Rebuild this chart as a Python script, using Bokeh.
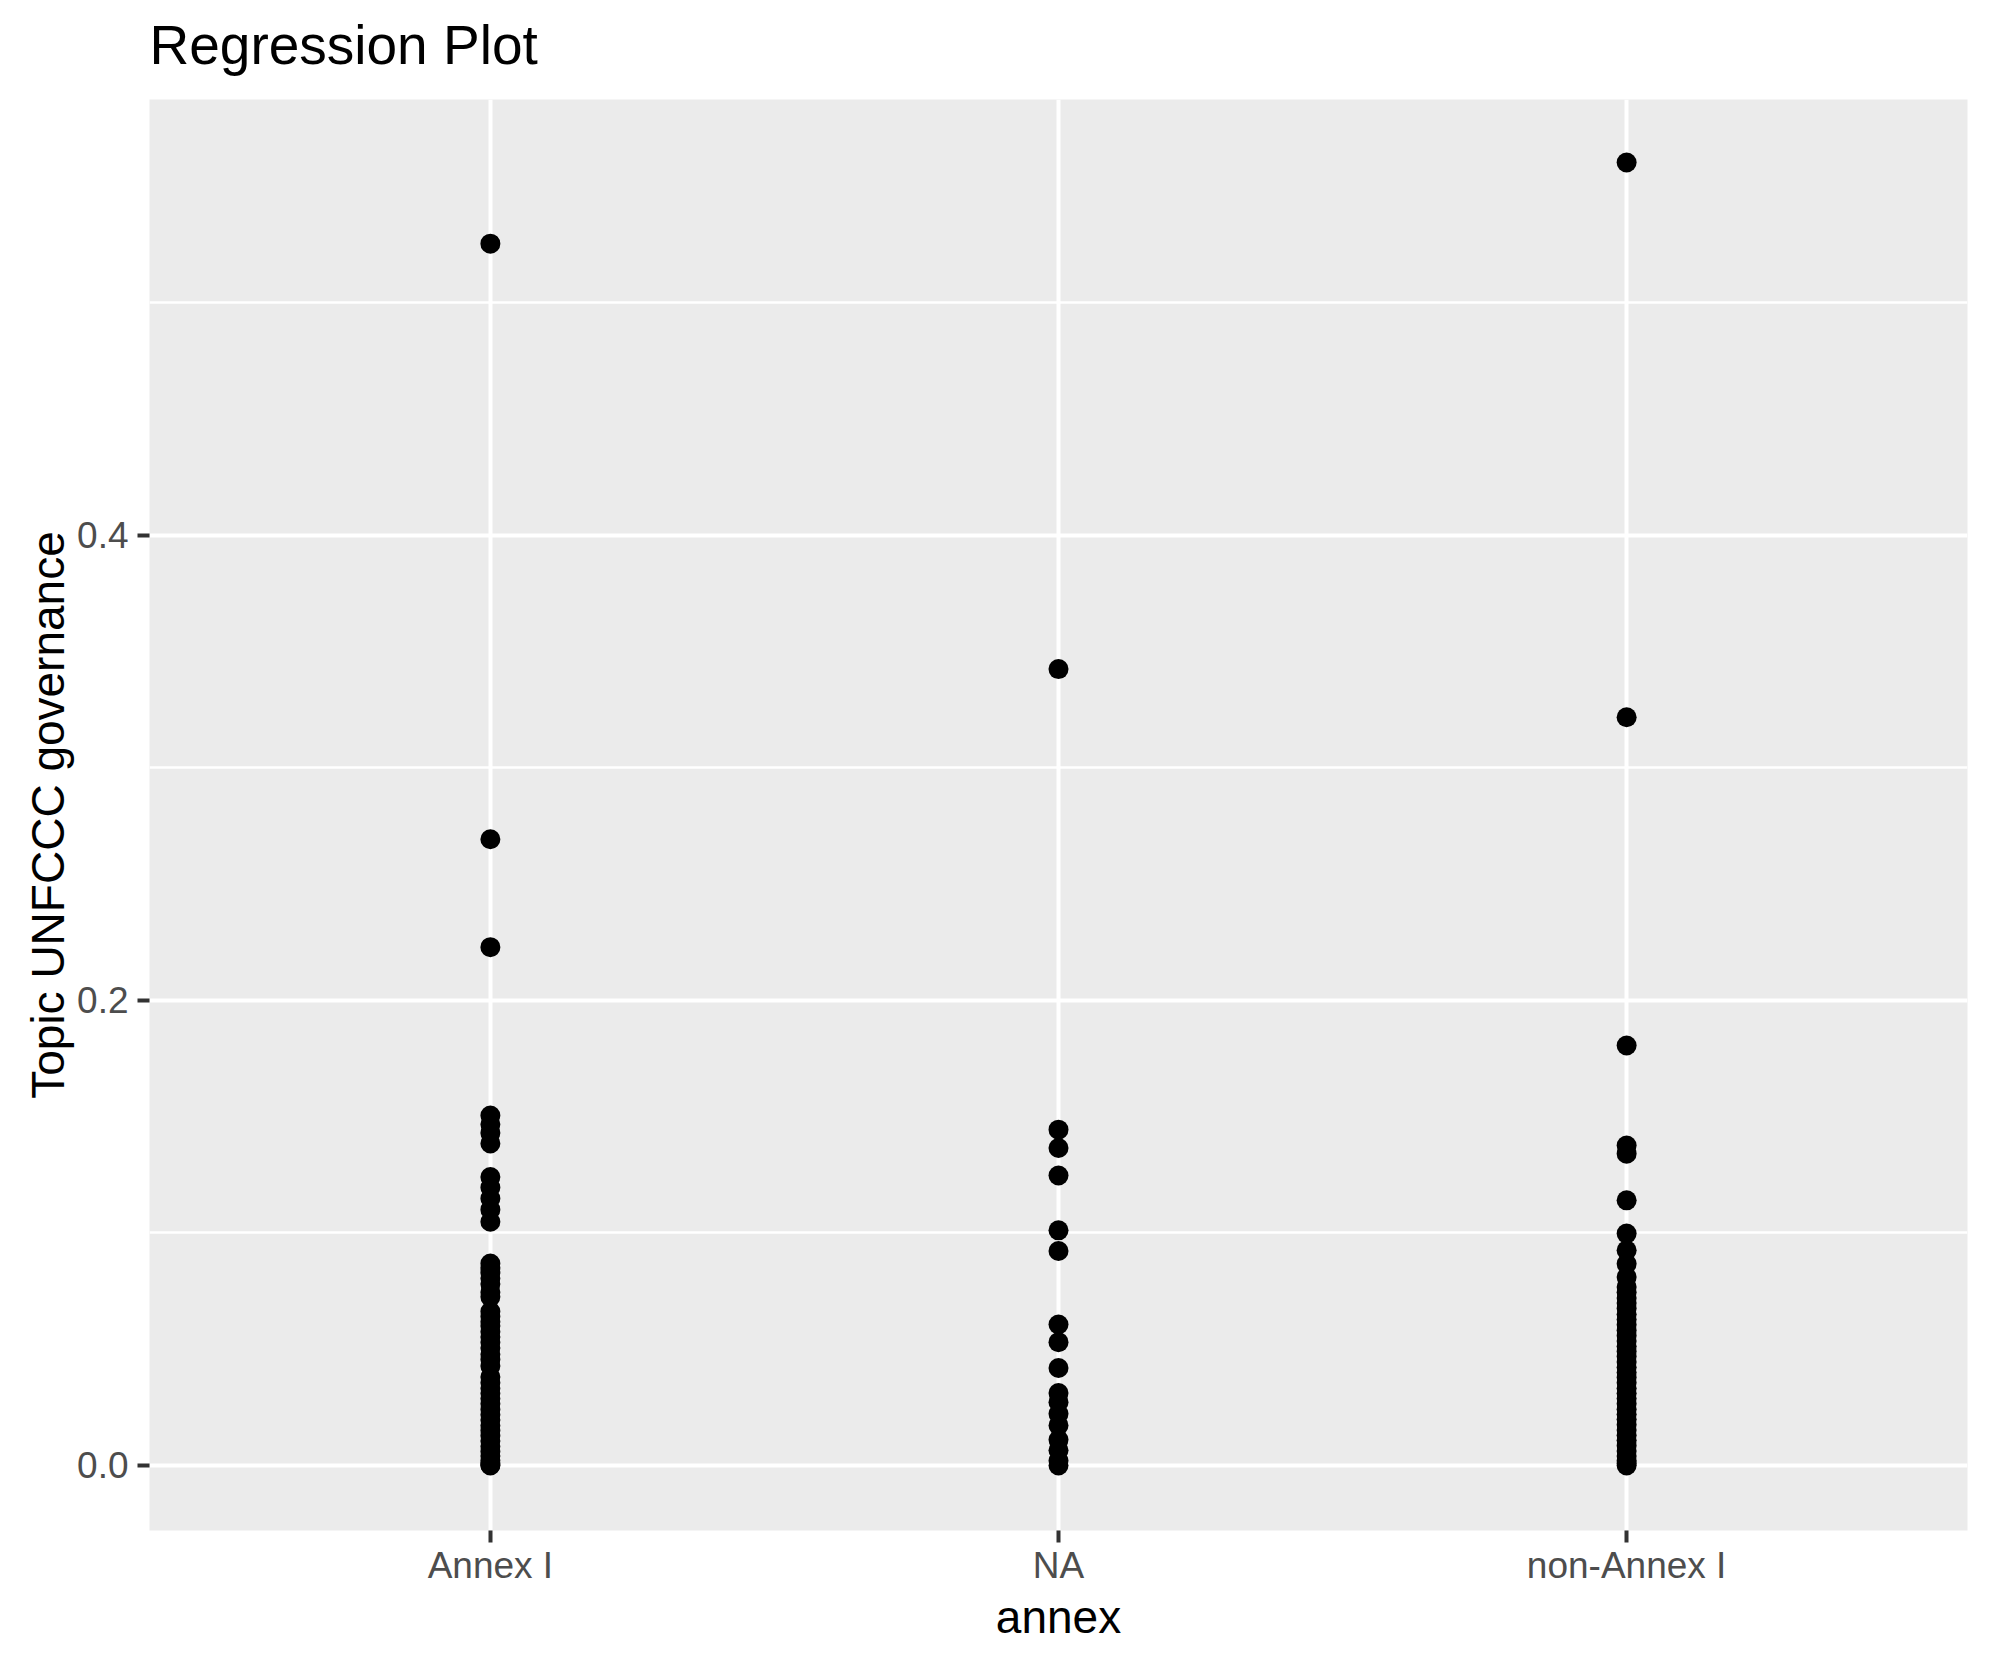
from bokeh.plotting import figure
from bokeh.models import FactorRange, Range1d, FixedTicker, PrintfTickFormatter, Title
from bokeh.embed import file_html
from bokeh.resources import INLINE

# ---- data ----
categories = ["Annex I", "NA", "non-Annex I"]

annex_i = [0.5255, 0.2693, 0.2229, 0.1505, 0.1467, 0.1430, 0.1385, 0.1240, 0.1195,
           0.1148, 0.1100, 0.1048, 0.0868, 0.0850, 0.0828, 0.0805, 0.0780, 0.0745,
           0.0725, 0.0662, 0.0640, 0.0618, 0.0600, 0.0575, 0.0552, 0.0530, 0.0505,
           0.0478, 0.0455, 0.0428, 0.0380, 0.0355, 0.0332, 0.0310, 0.0288, 0.0265,
           0.0240, 0.0218, 0.0195, 0.0172, 0.0150, 0.0128, 0.0105, 0.0082, 0.0060,
           0.0040, 0.0022, 0.0010, 0.0003, 0.0]

na_vals = [0.3425, 0.1444, 0.1365, 0.1247, 0.1011, 0.0922, 0.0606, 0.0530, 0.0419,
           0.0311, 0.0272, 0.0222, 0.0172, 0.0110, 0.0065, 0.0020, 0.0]

non_annex_i = [0.5604, 0.3218, 0.1806, 0.1376, 0.1341, 0.1140, 0.0997, 0.0925, 0.0867,
               0.0810, 0.0767, 0.0745, 0.0720, 0.0698, 0.0675, 0.0650, 0.0628, 0.0605,
               0.0580, 0.0558, 0.0535, 0.0512, 0.0490, 0.0468, 0.0445, 0.0422, 0.0400,
               0.0378, 0.0355, 0.0332, 0.0310, 0.0288, 0.0265, 0.0242, 0.0220, 0.0198,
               0.0175, 0.0152, 0.0130, 0.0108, 0.0085, 0.0062, 0.0040, 0.0020, 0.0008, 0.0]

y_major_ticks = [0.0, 0.2, 0.4]
y_minor_ticks = [0.1, 0.3, 0.5]

title_text = "Regression Plot"

xs = ([categories[0]] * len(annex_i) + [categories[1]] * len(na_vals)
      + [categories[2]] * len(non_annex_i))
ys = annex_i + na_vals + non_annex_i

FONT = "Liberation Sans"

p = figure(
    x_range=FactorRange(factors=categories, range_padding=0.1, range_padding_units="absolute"),
    y_range=Range1d(-0.028, 0.5875),
    frame_width=1818, frame_height=1431,
    min_border_left=149, min_border_right=7, min_border_top=99, min_border_bottom=119,
    output_backend="svg", toolbar_location=None,
)

p.background_fill_color = "#EBEBEB"
p.border_fill_color = "white"
p.outline_line_color = None

p.scatter(x=xs, y=ys, size=20, fill_color="black", line_color=None)

# blank white spacer next to the frame, then the title above it
p.add_layout(Title(text=" ", text_font=FONT, text_font_size="10px", text_color="white",
                   standoff=11), "above")
p.add_layout(Title(text=title_text, text_font=FONT, text_font_size="55px",
                   text_font_style="normal", text_color="black", align="left",
                   standoff=0), "above")

# grids
for g in (p.xgrid, p.ygrid):
    g.grid_line_color = "white"
    g.grid_line_width = 4
p.ygrid.minor_grid_line_color = "white"
p.ygrid.minor_grid_line_width = 2.5

# axes
p.yaxis.ticker = FixedTicker(ticks=y_major_ticks, minor_ticks=y_minor_ticks)
p.yaxis.formatter = PrintfTickFormatter(format="%.1f")
for ax in (p.xaxis, p.yaxis):
    ax.axis_line_color = None
    ax.major_tick_line_color = "#333333"
    ax.major_tick_line_width = 4
    ax.major_tick_out = 12
    ax.major_tick_in = 0
    ax.minor_tick_line_color = None
    ax.major_label_text_font = FONT
    ax.major_label_text_font_size = "37px"
    ax.major_label_text_color = "#4D4D4D"
    ax.axis_label_text_font = FONT
    ax.axis_label_text_font_size = "46px"
    ax.axis_label_text_font_style = "normal"
    ax.axis_label_text_color = "black"

p.xaxis.axis_label = "annex"
p.yaxis.axis_label = "Topic UNFCCC governance"
p.xaxis.major_label_standoff = 2
p.yaxis.major_label_standoff = 9
p.xaxis.axis_label_standoff = 2
p.yaxis.axis_label_standoff = 0

open("out.html", "w").write(file_html(p, INLINE))
